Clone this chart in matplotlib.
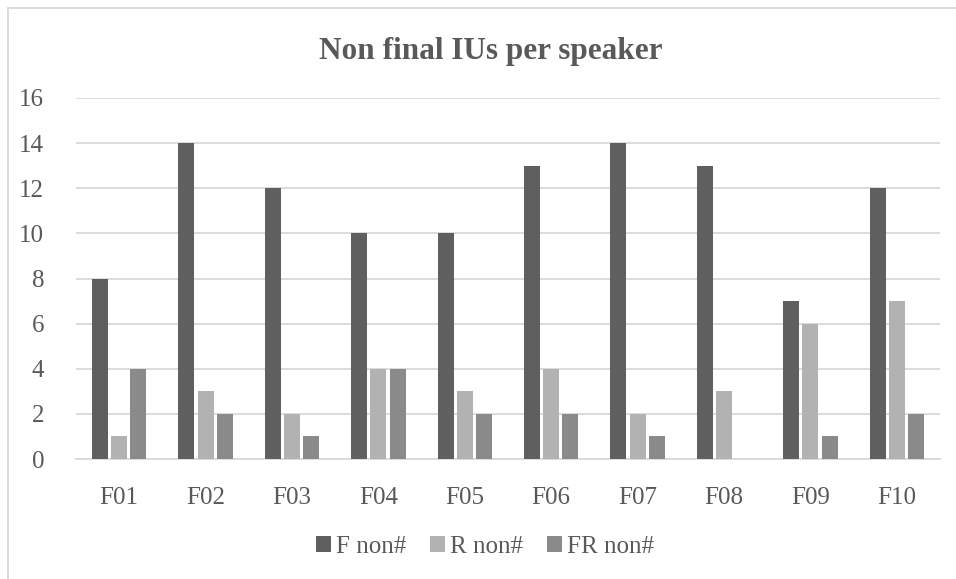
import numpy as np
import matplotlib.pyplot as plt
from matplotlib.patches import Rectangle

plt.rcParams['font.family'] = ['Liberation Serif', 'DejaVu Serif']

# Data
speakers = ['F01', 'F02', 'F03', 'F04', 'F05', 'F06', 'F07', 'F08', 'F09', 'F10']
f_non = [8, 14, 12, 10, 10, 13, 14, 13, 7, 12]
r_non = [1, 3, 2, 4, 3, 4, 2, 3, 6, 7]
fr_non = [4, 2, 1, 4, 2, 2, 1, 0, 1, 2]
series_names = ['F non#', 'R non#', 'FR non#']
colors = ['#5f5f5f', '#b2b2b2', '#8a8a8a']
text_color = '#595959'

fig = plt.figure(figsize=(9.56, 5.79), dpi=100)
ax = fig.add_axes([76/956, 1 - 459/579, 864/956, 361/579])

# Chart border
fig.patches.append(Rectangle((8/956, -0.1), 1.2, 1 - 8/579 + 0.1, transform=fig.transFigure,
                             fill=False, edgecolor='#d9d9d9', linewidth=1.3))

x = np.arange(len(speakers))
step = 0.222
bw = 0.185
for i, (vals, name, c) in enumerate(zip([f_non, r_non, fr_non], series_names, colors)):
    ax.bar(x + (i - 1) * step, vals, width=bw, color=c, label=name, zorder=3)

ax.set_xlim(-0.5, len(speakers) - 0.5)
ax.set_ylim(0, 16)
ax.set_yticks(np.arange(0, 17, 2))
ax.set_xticks(x)
ax.set_xticklabels(speakers)
ax.grid(axis='y', color='#d9d9d9', linewidth=1.3, zorder=0)
ax.tick_params(axis='both', length=0, labelsize=18, labelcolor=text_color)
ax.tick_params(axis='y', pad=23)
ax.tick_params(axis='x', pad=20)
for s in ['top', 'right', 'left']:
    ax.spines[s].set_visible(False)
ax.spines['bottom'].set_color('#d9d9d9')
ax.spines['bottom'].set_linewidth(1.3)

fig.text(491/956, 1 - 52/579, 'Non final IUs per speaker', ha='center', va='center',
         fontsize=22.5, fontweight='bold', color=text_color)

leg = fig.legend(loc='center', bbox_to_anchor=(485/956, 1 - 547/579), ncol=3, frameon=False,
                 fontsize=18, handlelength=0.6, handleheight=0.6, handletextpad=0.2,
                 columnspacing=0.95)
for t in leg.get_texts():
    t.set_color(text_color)

fig.savefig('out.png', dpi=100, facecolor='white')
